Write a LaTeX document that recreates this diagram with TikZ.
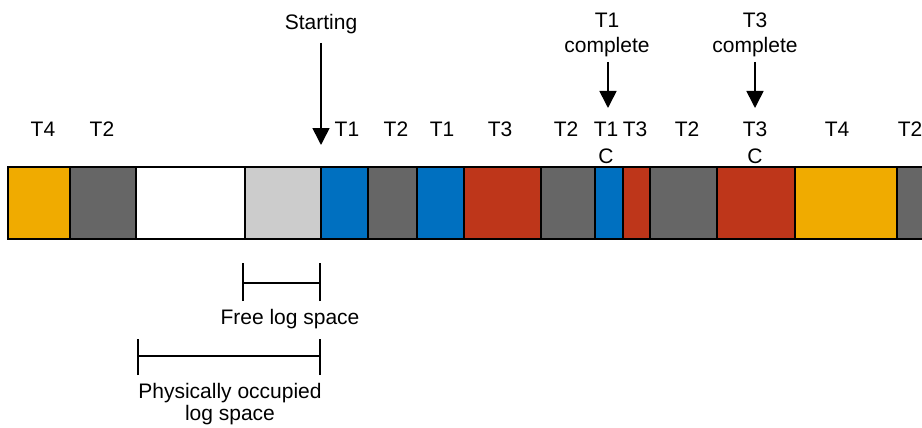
\documentclass[tikz,border=0pt]{standalone}
\usepackage{fontspec}
\setmainfont{Liberation Sans}
\usetikzlibrary{arrows.meta}
\definecolor{corange}{RGB}{240,171,0}
\definecolor{cdark}{RGB}{102,102,102}
\definecolor{clight}{RGB}{204,204,204}
\definecolor{cblue}{RGB}{0,112,192}
\definecolor{cred}{RGB}{190,54,26}
\begin{document}
\begin{tikzpicture}[x=1pt,y=-1pt,
  font=\fontsize{21}{25}\selectfont,
  seg/.style={draw=black, line width=1.6pt, anchor=north west, inner sep=0pt, outer sep=0pt, minimum height=72pt},
  lbl/.style={anchor=base, inner sep=0pt},
  arr/.style={line width=1.6pt, -{Triangle[width=17pt,length=17pt]}},
  brk/.style={line width=1.6pt}]
\clip (0,0) rectangle (922,428);
% log segments
\node[seg, fill=corange, minimum width=62pt] (s1) at (8,167) {};
\node[seg, fill=cdark,   minimum width=66pt] (s2) at (70,167) {};
\node[seg, fill=white,   minimum width=109pt] (s3) at (136,167) {};
\node[seg, fill=clight,  minimum width=76pt] (s4) at (245,167) {};
\node[seg, fill=cblue,   minimum width=47pt] (s5) at (321,167) {};
\node[seg, fill=cdark,   minimum width=49pt] (s6) at (368,167) {};
\node[seg, fill=cblue,   minimum width=47pt] (s7) at (417,167) {};
\node[seg, fill=cred,    minimum width=77pt] (s8) at (464,167) {};
\node[seg, fill=cdark,   minimum width=54pt] (s9) at (541,167) {};
\node[seg, fill=cblue,   minimum width=28pt] (s10) at (595,167) {};
\node[seg, fill=cred,    minimum width=27pt] (s11) at (623,167) {};
\node[seg, fill=cdark,   minimum width=67pt] (s12) at (650,167) {};
\node[seg, fill=cred,    minimum width=78pt] (s13) at (717,167) {};
\node[seg, fill=corange, minimum width=102pt] (s14) at (795,167) {};
\node[seg, fill=cdark,   minimum width=40pt] (s15) at (897,167) {};
% segment labels
\node[lbl] (l1) at (43,136) {T4};
\node[lbl] (l2) at (102,136) {T2};
\node[lbl] (l5) at (347,136) {T1};
\node[lbl] (l6) at (396,136) {T2};
\node[lbl] (l7) at (442,136) {T1};
\node[lbl] (l8) at (500,136) {T3};
\node[lbl] (l9) at (566,136) {T2};
\node[lbl] (l10) at (606,136) {T1};
\node[lbl] (l11) at (635,136) {T3};
\node[lbl] (l12) at (687,136) {T2};
\node[lbl] (l13) at (755,136) {T3};
\node[lbl] (l14) at (837,136) {T4};
\node[lbl] (l15) at (910,136) {T2};
\node[lbl] (c10) at (606,163) {C};
\node[lbl] (c13) at (755,163) {C};
% arrows
\node[lbl] (start) at (321,30) {Starting};
\coordinate (startA) at (321,43);
\coordinate (startB) at (321,145);
\draw[arr] (startA) -- (startB);
\node[lbl] (t1a) at (607,28) {T1};
\node[lbl] (t1b) at (607,53) {complete};
\coordinate (t1A) at (608,62);
\coordinate (t1B) at (608,108);
\draw[arr] (t1A) -- (t1B);
\node[lbl] (t3a) at (755,28) {T3};
\node[lbl] (t3b) at (755,53) {complete};
\coordinate (t3A) at (755,62);
\coordinate (t3B) at (755,108);
\draw[arr] (t3A) -- (t3B);
% brackets
\coordinate (f1) at (243,283);
\coordinate (f2) at (320,283);
\draw[brk] (f1) -- (f2);
\draw[brk] ([yshift=-18pt]f1) -- ([yshift=20pt]f1);
\draw[brk] ([yshift=-18pt]f2) -- ([yshift=20pt]f2);
\node[lbl] (free) at (290,324) {Free log space};
\coordinate (p1) at (138,356);
\coordinate (p2) at (320,356);
\draw[brk] (p1) -- (p2);
\draw[brk] ([yshift=-19pt]p1) -- ([yshift=17pt]p1);
\draw[brk] ([yshift=-19pt]p2) -- ([yshift=17pt]p2);
\node[lbl] (phys1) at (230,398) {Physically occupied};
\node[lbl] (phys2) at (230,420) {log space};
\end{tikzpicture}
\end{document}
